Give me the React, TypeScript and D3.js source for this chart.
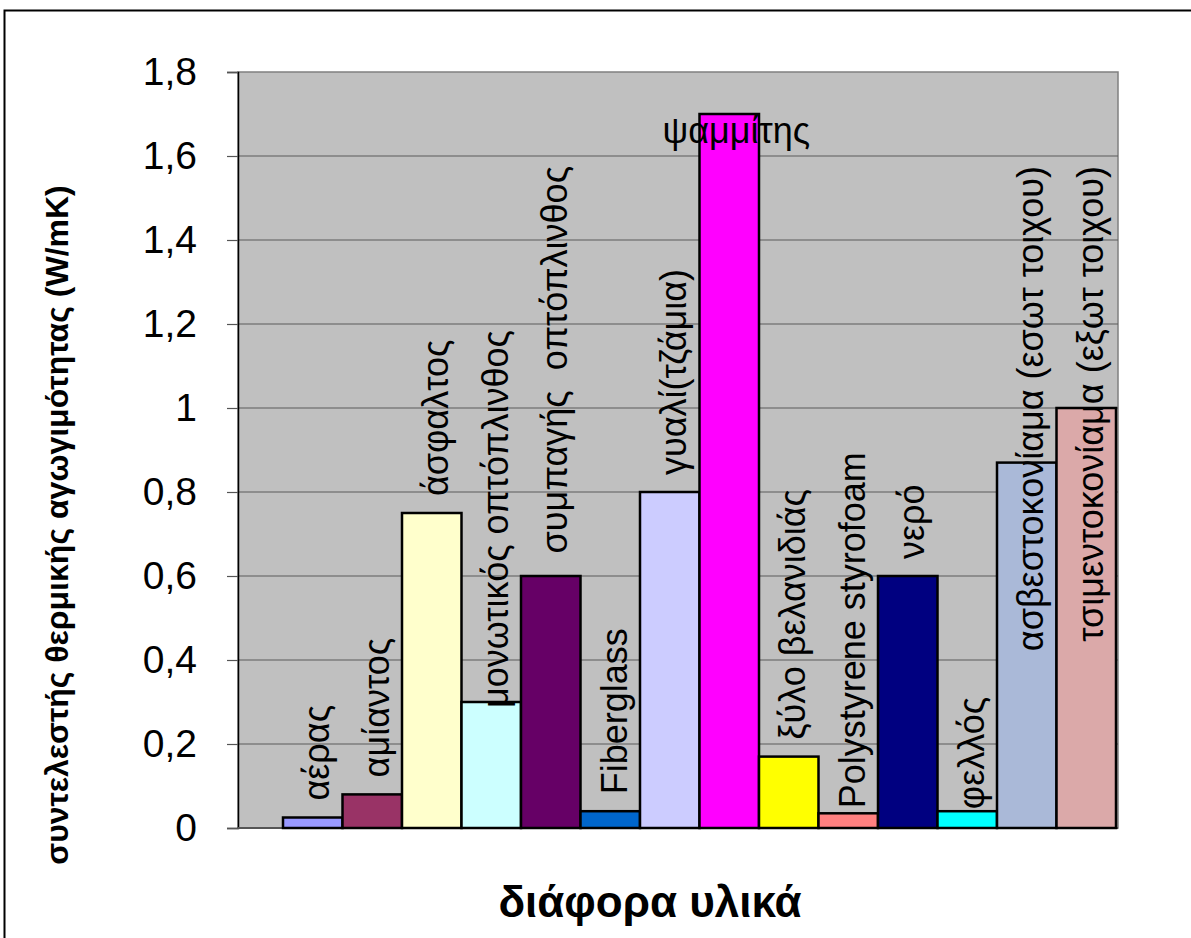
import React, { useRef, useEffect } from 'react';
import * as d3 from 'd3';

// materials and their thermal conductivity (W/mK)
const materials: string[] = [
    'αέρας',
    'αμίαντος',
    'άσφαλτος',
    'μονωτικός οπτόπλινθος',
    'συμπαγής  οπτόπλινθος',
    'Fiberglass',
    'γυαλί(τζάμια)',
    'ψαμμίτης',
    'ξύλο βελανιδιάς',
    'Polystyrene styrofoam',
    'νερό',
    'φελλός',
    'ασβεστοκονίαμα (εσωτ τοιχου)',
    'τσιμεντοκονίαμα (εξωτ τοιχου)',
];
const conductivity: number[] = [0.025, 0.08, 0.75, 0.3, 0.6, 0.04, 0.8, 1.7, 0.17, 0.035, 0.6, 0.04, 0.87, 1.0];
const barColors: string[] = [
    '#9999FF', '#993366', '#FFFFCC', '#CCFFFF', '#660066', '#0066CC', '#CCCCFF',
    '#FF00FF', '#FFFF00', '#FF8080', '#000080', '#00FFFF', '#AAB9D8', '#DBA9A9',
];
const yTicks: number[] = [0, 0.2, 0.4, 0.6, 0.8, 1, 1.2, 1.4, 1.6, 1.8];
const yTitle = 'συντελεστής θερμικής αγωγιμότητας (W/mK)';
const xTitle = 'διάφορα υλικά';

interface DataItem {
    name: string;
    value: number;
    color: string;
}

const data: DataItem[] = materials.map((name, i) => ({ name, value: conductivity[i], color: barColors[i] }));

const App: React.FC = () => {
    const ref = useRef<SVGSVGElement | null>(null);

    useEffect(() => {
        if (!ref.current) return;
        const W = 1191, H = 938;
        const plot = { left: 238, top: 72, right: 1118, bottom: 828 };

        const svg = d3.select(ref.current);
        svg.selectAll('*').remove();
        svg.attr('width', W).attr('height', H);

        svg.append('rect').attr('width', W).attr('height', H).attr('fill', '#fff');
        // outer chart border (runs off the right/bottom edge)
        svg.append('rect')
            .attr('x', 4.5).attr('y', 10.5).attr('width', 1250).attr('height', 1000)
            .attr('fill', 'none').attr('stroke', '#000').attr('stroke-width', 2);

        const y = d3.scaleLinear().domain([0, 1.8]).range([plot.bottom, plot.top]);
        const x = d3.scaleBand<string>().domain(materials).range([283, 1116]).paddingInner(0);

        const fmt = d3.formatLocale({ decimal: ',', thousands: '.', grouping: [3], currency: ['', '€'] }).format('~g');

        // plot area
        svg.append('rect')
            .attr('x', plot.left).attr('y', plot.top)
            .attr('width', plot.right - plot.left).attr('height', plot.bottom - plot.top)
            .attr('fill', '#C0C0C0').attr('stroke', '#808080').attr('stroke-width', 1.5);

        // gridlines
        svg.append('g').selectAll('line')
            .data(yTicks.filter(t => t > 0 && t < 1.8))
            .join('line')
            .attr('x1', plot.left).attr('x2', plot.right)
            .attr('y1', d => y(d)).attr('y2', d => y(d))
            .attr('stroke', '#5a5a5a').attr('stroke-width', 1);

        // y axis
        const yAxis = svg.append('g')
            .attr('transform', `translate(${plot.left},0)`)
            .call(d3.axisLeft(y).tickValues(yTicks).tickFormat(d => fmt(d as number)).tickSize(11).tickPadding(30));
        yAxis.select('.domain').attr('stroke', '#000').attr('stroke-width', 1.5);
        yAxis.selectAll('.tick line').attr('stroke', '#555').attr('stroke-width', 1.2);
        yAxis.selectAll('.tick text')
            .attr('font-family', '"Liberation Sans", Arial, sans-serif')
            .attr('font-size', 39).attr('fill', '#000');

        // x axis baseline
        svg.append('line')
            .attr('x1', plot.left).attr('x2', plot.right)
            .attr('y1', plot.bottom).attr('y2', plot.bottom)
            .attr('stroke', '#555').attr('stroke-width', 2);

        // bars
        svg.append('g').selectAll('rect')
            .data(data)
            .join('rect')
            .attr('x', d => x(d.name) as number)
            .attr('y', d => y(d.value))
            .attr('width', x.bandwidth())
            .attr('height', d => y(0) - y(d.value))
            .attr('fill', d => d.color)
            .attr('stroke', '#000').attr('stroke-width', 2.5);

        // data labels (series names), rotated above each bar
        const labelFont = '"Liberation Sans", Arial, sans-serif';
        const gap = 17;
        const topLimit = 166;
        const nudge: Record<string, number> = {
            'μονωτικός οπτόπλινθος': 23,
            'συμπαγής  οπτόπλινθος': -9,
            'Polystyrene styrofoam': 12,
            'φελλός': 15,
        };
        const labels = svg.append('g')
            .attr('font-family', labelFont).attr('font-size', 36).attr('fill', '#000');

        data.forEach(d => {
            const cx = (x(d.name) as number) + x.bandwidth() / 2;
            const top = y(d.value);
            if (d.value > 1.5) {
                // no room above: horizontal label over the bar top
                labels.append('text')
                    .attr('x', cx + 7).attr('y', top + 29)
                    .attr('text-anchor', 'middle')
                    .text(d.name);
                return;
            }
            const t = labels.append('text')
                .attr('dominant-baseline', 'central')
                .style('white-space', 'pre')
                .text(d.name);
            const len = (t.node() as SVGTextElement).getComputedTextLength();
            let start = top - gap + (nudge[d.name] ?? 0);
            if (start - len < topLimit) start = topLimit + len;
            t.attr('transform', `translate(${cx + 4},${start}) rotate(-90)`);
        });

        // axis titles
        svg.append('text')
            .attr('transform', `translate(57,525) rotate(-90)`)
            .attr('text-anchor', 'middle').attr('dominant-baseline', 'central')
            .attr('font-family', labelFont).attr('font-weight', 'bold').attr('font-size', 32)
            .text(yTitle);

        svg.append('text')
            .attr('x', 650).attr('y', 917)
            .attr('text-anchor', 'middle')
            .attr('font-family', labelFont).attr('font-weight', 'bold').attr('font-size', 44)
            .text(xTitle);
    }, []);

    return (
        <div style={{ position: 'absolute', left: 0, top: 0 }}>
            <svg ref={ref} style={{ display: 'block' }} />
        </div>
    );
};

export default App;
